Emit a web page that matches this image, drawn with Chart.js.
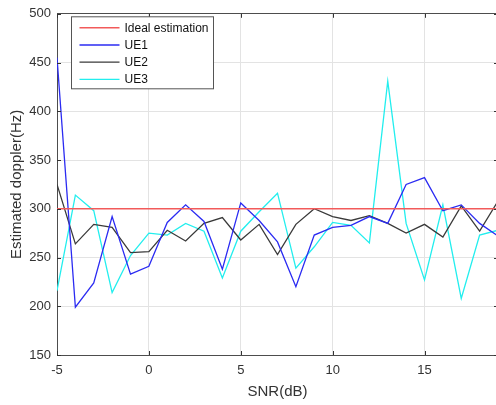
<!DOCTYPE html>
<html>
<head>
<meta charset="utf-8">
<title>Estimated doppler vs SNR</title>
<script src="https://cdn.jsdelivr.net/npm/chart.js@4/dist/chart.umd.min.js"></script>
<style>
  html, body { margin: 0; padding: 0; background: #fff; overflow: hidden; }
  body { width: 496px; height: 405px; }
  canvas { display: block; }
</style>
</head>
<body>
<canvas id="dopplerChart" width="498" height="405"></canvas>
<script>
// SNR sweep (dB)
const snr = [-5, -4, -3, -2, -1, 0, 1, 2, 3, 4, 5, 6, 7, 8, 9, 10, 11, 12, 13, 14, 15, 16, 17, 18, 19];

// estimated doppler per UE (Hz)
const ideal = [300, 300, 300, 300, 300, 300, 300, 300, 300, 300, 300, 300, 300,
               300, 300, 300, 300, 300, 300, 300, 300, 300, 300, 300, 300];
const ue1 = [455, 199, 224, 292, 233, 241, 286, 304, 287, 238, 306, 288, 266,
             220, 273, 281, 283, 292, 285, 325, 332, 298, 304, 285, 272];
const ue2 = [325, 264, 284, 281, 255, 256, 278, 267, 285, 291, 268, 284, 253,
             284, 300, 292, 288, 293, 285, 275, 284, 271, 303, 277, 308];
const ue3 = [216, 314, 298, 214, 252, 275, 273, 285, 277, 229, 277, 297, 316,
             239, 261, 286, 283, 265, 431, 285, 227, 304, 208, 273, 278];

const seriesNames = ["Ideal estimation", "UE1", "UE2", "UE3"];
const xTicks = [-5, 0, 5, 10, 15];
const yTicks = [150, 200, 250, 300, 350, 400, 450, 500];

const FONT = "'Liberation Sans', Arial, Helvetica, sans-serif";
const AXIS = "#4d4d4d";

function points(ys) {
    return snr.map((s, i) => ({ x: s, y: ys[i] }));
}

function line(label, ys, color, width) {
    return {
        label: label,
        data: points(ys),
        borderColor: color,
        backgroundColor: color,
        borderWidth: width,
        pointRadius: 0,
        tension: 0,
        fill: false
    };
}

// inward tick marks on the box + legend drawn inside the plot area
const boxExtras = {
    id: "boxExtras",
    afterDatasetsDraw(chart) {
        const { ctx, chartArea: a, scales } = chart;
        ctx.save();
        ctx.strokeStyle = "#333";
        ctx.lineWidth = 1;
        ctx.beginPath();
        xTicks.forEach(v => {
            const px = Math.round(scales.x.getPixelForValue(v)) + 0.5;
            ctx.moveTo(px, a.bottom); ctx.lineTo(px, a.bottom - 4);
            ctx.moveTo(px, a.top); ctx.lineTo(px, a.top + 4);
        });
        yTicks.forEach(v => {
            const py = Math.round(scales.y.getPixelForValue(v)) + 0.5;
            ctx.moveTo(a.left, py); ctx.lineTo(a.left + 4, py);
            ctx.moveTo(a.right, py); ctx.lineTo(a.right - 4, py);
        });
        ctx.stroke();

        // legend
        const bx = a.left + 14.5, by = a.top + 3, bw = 142, bh = 72;
        ctx.fillStyle = "#fff";
        ctx.fillRect(bx, by, bw, bh);
        ctx.strokeStyle = "#555";
        ctx.strokeRect(bx, by, bw, bh);
        ctx.font = "12px " + FONT;
        ctx.textBaseline = "middle";
        chart.data.datasets.forEach((ds, i) => {
            const y = by + 11 + i * 17.2;
            ctx.strokeStyle = ds.borderColor;
            ctx.lineWidth = ds.borderWidth;
            ctx.beginPath();
            ctx.moveTo(bx + 8, y);
            ctx.lineTo(bx + 48, y);
            ctx.stroke();
            ctx.fillStyle = "#111";
            ctx.fillText(ds.label, bx + 53, y + 0.5);
        });
        ctx.restore();
    }
};

const ctx = document.getElementById("dopplerChart").getContext("2d");
new Chart(ctx, {
    type: "line",
    data: {
        datasets: [
            line(seriesNames[0], ideal, "#f25a5a", 1.6),
            line(seriesNames[1], ue1, "#2b2bf2", 1.3),
            line(seriesNames[2], ue2, "#3a3a3a", 1.3),
            line(seriesNames[3], ue3, "#22eeee", 1.3)
        ]
    },
    options: {
        responsive: false,
        animation: false,
        devicePixelRatio: 1,
        layout: { padding: { top: 10, right: 0, bottom: 0, left: 0 } },
        plugins: {
            legend: { display: false },
            tooltip: { enabled: false }
        },
        scales: {
            x: {
                type: "linear",
                min: -5,
                max: 19,
                afterFit(scale) { scale.height = 50; },
                afterBuildTicks(scale) { scale.ticks = xTicks.map(v => ({ value: v })); },
                ticks: {
                    color: "#333",
                    font: { family: FONT, size: 13 },
                    padding: 8,
                    maxRotation: 0
                },
                grid: { color: "#e3e3e3", drawTicks: false },
                border: { color: AXIS, width: 1 },
                title: {
                    display: true,
                    text: "SNR(dB)",
                    color: "#333",
                    font: { family: FONT, size: 15 },
                    padding: { top: 0, bottom: 4 }
                }
            },
            y: {
                min: 150,
                max: 500,
                afterFit(scale) { scale.width = 57; },
                afterBuildTicks(scale) { scale.ticks = yTicks.map(v => ({ value: v })); },
                ticks: {
                    color: "#333",
                    font: { family: FONT, size: 13 },
                    padding: 6
                },
                grid: {
                    color: c => (c.tick && c.tick.value === 500 ? AXIS : "#e3e3e3"),
                    drawTicks: false
                },
                border: { color: AXIS, width: 1 },
                title: {
                    display: true,
                    text: "Estimated doppler(Hz)",
                    color: "#333",
                    font: { family: FONT, size: 15 },
                    padding: { top: 8, bottom: 0 }
                }
            }
        }
    },
    plugins: [boxExtras]
});
</script>
</body>
</html>
